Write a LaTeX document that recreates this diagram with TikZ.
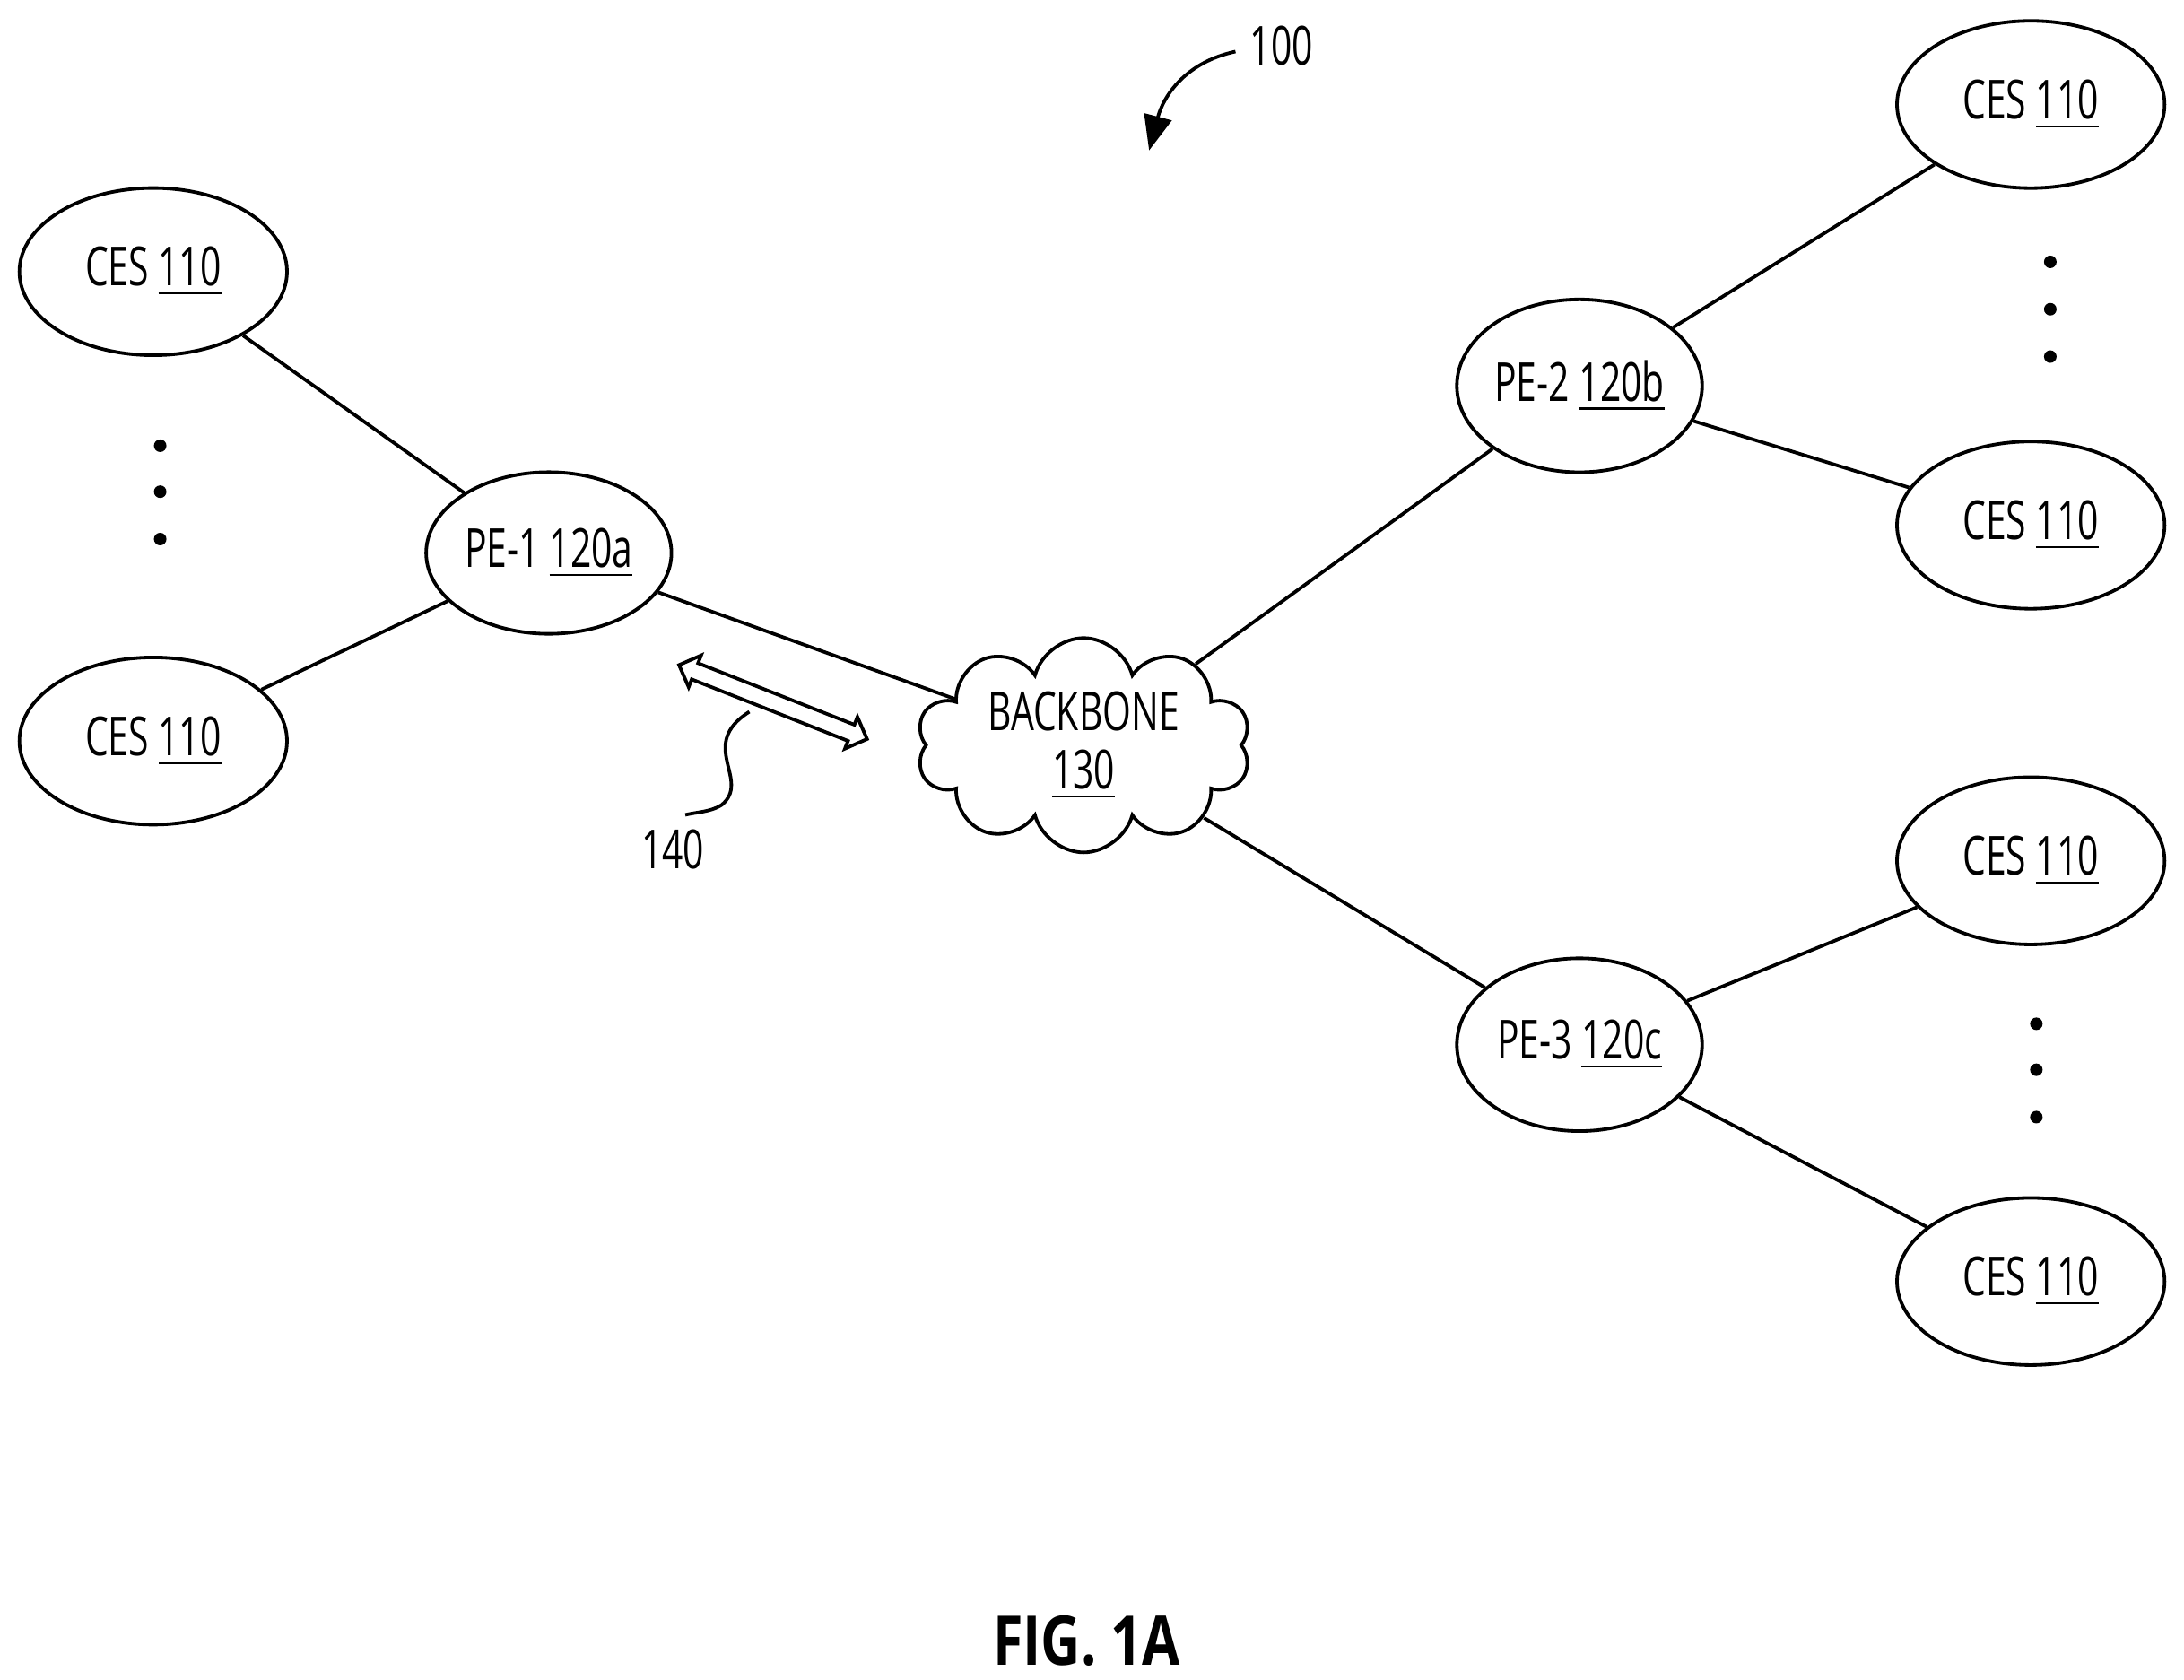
\documentclass[tikz,border=0pt]{standalone}
\usepackage{fontspec}
\setmainfont{Open Sans}[FakeStretch=0.68]
\newfontfamily\figfont{Open Sans}[FakeStretch=0.8]
\usetikzlibrary{shapes.geometric,shapes.symbols,shapes.arrows,arrows.meta}
\begin{document}
\begin{tikzpicture}[x=0.01cm,y=-0.01cm,
  ell/.style={draw,ellipse,line width=0.7pt,inner sep=0pt},
  ces/.style={ell,minimum width=1.92cm,minimum height=1.2cm},
  pe/.style={ell,minimum width=1.76cm,minimum height=1.16cm},
  txt/.style={font=\fontsize{11}{13}\selectfont},
  ln/.style={line width=0.7pt},
  dot/.style={circle,fill,inner sep=0pt,minimum size=0.09cm}]
\useasboundingbox (0,0) rectangle (1568,1206);
\node[ces,txt] (c1) at (110,195) {CES \underline{110}};
\node[ces,txt] (c2) at (110,532) {CES \underline{110}};
\node[pe,txt] (p1) at (394,397) {PE-1 \underline{120a}};
\node[pe,txt,minimum height=1.24cm] (p2) at (1134,277) {PE-2 \underline{120b}};
\node[pe,txt,minimum height=1.24cm] (p3) at (1134,750) {PE-3 \underline{120c}};
\node[ces,txt] (c3) at (1458,75) {CES \underline{110}};
\node[ces,txt] (c4) at (1458,377) {CES \underline{110}};
\node[ces,txt] (c5) at (1458,618) {CES \underline{110}};
\node[ces,txt] (c6) at (1458,920) {CES \underline{110}};
\node[draw,cloud,cloud puffs=10,aspect=1.9,line width=0.7pt,minimum width=2.4cm,minimum height=1.35cm,txt,align=center,inner sep=0pt] (bb) at (778,535) {BACKBONE\\[-1pt]\underline{130}};
\foreach \y [count=\i] in {320,353,387}{\node[dot] (dl\i) at (115,\y) {};}
\foreach \y [count=\i] in {188,222,256}{\node[dot] (dr\i) at (1472,\y) {};}
\foreach \y [count=\i] in {735,768,802}{\node[dot] (ds\i) at (1462,\y) {};}
\draw[ln] (c1) -- (p1);
\draw[ln] (c2) -- (p1);
\draw[ln] (p1) -- (bb);
\draw[ln] (bb) -- (p2);
\draw[ln] (bb) -- (p3);
\draw[ln] (p2) -- (c3);
\draw[ln] (p2) -- (c4);
\draw[ln] (p3) -- (c5);
\draw[ln] (p3) -- (c6);
\node[draw,fill=white,double arrow,double arrow head extend=0.06cm,double arrow head indent=0cm,minimum height=1.45cm,inner ysep=0.05cm,inner xsep=0pt,inner sep=0pt,inner ysep=0.05cm,line width=0.7pt,rotate=-21.5] (a140) at (555,504) {};
\node[txt] (l140) at (483,610) {140};
\draw[ln] (538,511) .. controls (500,535) and (540,560) .. (518,578) .. controls (510,583) and (500,583) .. (492,585);
\node[txt] (l100) at (920,33) {100};
\coordinate (t100) at (825,108);
\draw[ln,-{Triangle[length=0.25cm,width=0.2cm]}] (887,37) .. controls (850,45) and (835,70) .. (t100);
\node[font=\figfont\bfseries\fontsize{14}{17}\selectfont] (fig) at (780,1178) {FIG. 1A};
\end{tikzpicture}
\end{document}
